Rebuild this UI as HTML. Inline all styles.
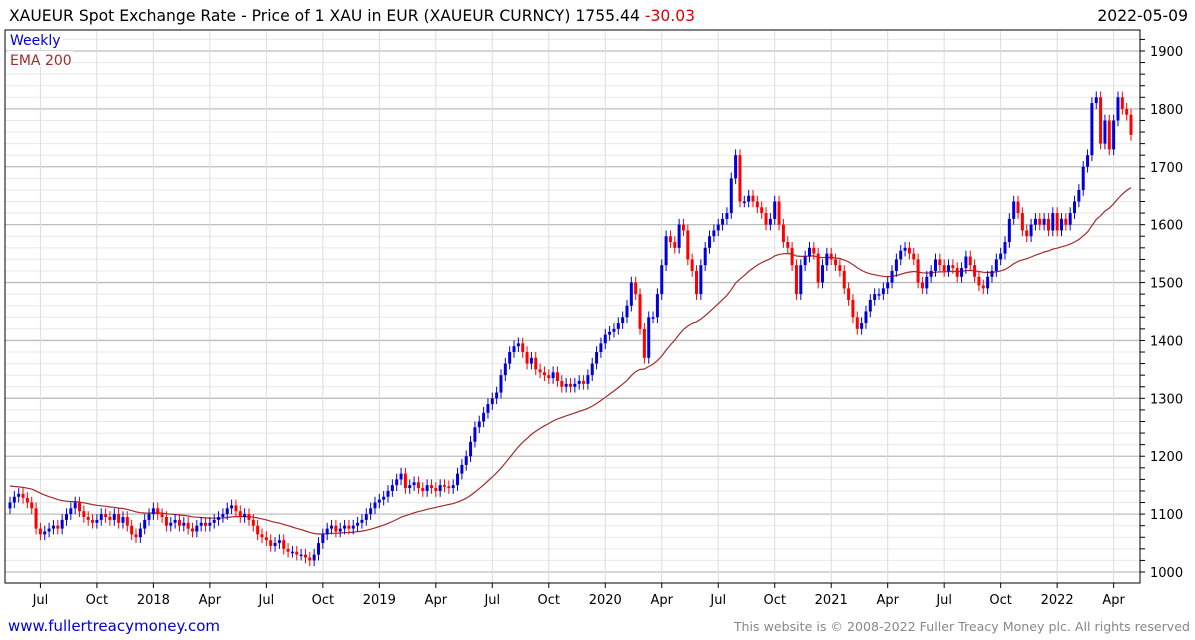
<!DOCTYPE html>
<html><head><meta charset="utf-8"><style>
body{margin:0;background:#fff;width:1195px;height:640px;overflow:hidden;font-family:"DejaVu Sans","Liberation Sans",sans-serif}
svg{position:absolute;left:0;top:0}
</style></head><body>
<svg id="chart" width="1195" height="640">
<text x="9" y="21" font-size="15.6" fill="#000">XAUEUR Spot Exchange Rate - Price of 1 XAU in EUR (XAUEUR CURNCY) 1755.44 <tspan fill="#e00000">-30.03</tspan></text>
<text x="1188" y="21" font-size="15.6" text-anchor="end" fill="#000">2022-05-09</text>
<g id="grid"></g>
<g id="ema"></g>
<g id="candles"></g>
<rect x="5" y="30" width="1135" height="553" fill="none" stroke="#000" stroke-width="1"/>
<rect x="7" y="31" width="55" height="16" fill="#fff"/>
<rect x="7" y="51" width="66" height="16" fill="#fff"/>
<text x="10" y="45" font-size="14" fill="#0000dd">Weekly</text>
<text x="10" y="65" font-size="14" fill="#a52a2a">EMA 200</text>
<g id="axes"></g>
<text x="8" y="631" font-size="15" fill="#0000dd">www.fullertreacymoney.com</text>
<text x="1190" y="631" font-size="12.6" fill="#888" text-anchor="end">This website is © 2008-2022 Fuller Treacy Money plc. All rights reserved</text>
</svg>
<script>
const closes = [1120,1130,1135,1128,1120,1110,1075,
1065,1070,1075,1080,1075,1090,1100,1110,1120,1105,1095,1090,1085,
1090,1100,1095,1090,1100,1085,1095,1080,1065,1060,1075,1090,1100,
1110,1100,1095,1080,1085,1090,1080,1085,1075,1070,1080,1085,1080,
1085,1090,1095,1100,1110,1115,1105,1095,1100,1090,1080,1065,1060,
1055,1045,1050,1055,1040,1035,1035,1030,1030,1025,1020,1030,1050,
1065,1075,1080,1070,1075,1080,1075,1080,1085,1090,1100,1110,1120,
1125,1130,1140,1150,1160,1170,1145,1150,1155,1145,1140,1150,1145,
1140,1150,1148,1145,1150,1170,1185,1200,1225,1250,1260,1275,1290,
1300,1310,1340,1360,1380,1390,1395,1380,1360,1370,1350,1345,1340,
1335,1345,1330,1320,1325,1320,1325,1330,1325,1340,1360,1380,1395,
1410,1415,1420,1430,1440,1460,1500,1480,1420,1370,1440,1440,1480,
1530,1580,1570,1560,1600,1590,1540,1520,1480,1530,1560,1580,1590,
1600,1610,1620,1680,1720,1640,1640,1650,1640,1630,1620,1600,1610,
1640,1600,1570,1560,1530,1480,1530,1545,1560,1550,1500,1530,1550,
1540,1530,1520,1490,1470,1440,1420,1430,1450,1470,1480,1480,1490,
1500,1520,1540,1555,1560,1550,1540,1500,1490,1510,1520,1540,1530,
1520,1530,1525,1510,1525,1545,1530,1510,1495,1490,1510,1520,1540,
1550,1570,1610,1640,1620,1590,1580,1600,1610,1600,1610,1590,1620,
1590,1610,1600,1620,1640,1660,1700,1720,1810,1820,1740,1780,1730,
1780,1820,1800,1790,1755];
const firstOpen = 1110;
const emaSeed = 1150;
const yTicks = [1000,1100,1200,1300,1400,1500,1600,1700,1800,1900];
const xLabels = ["Jul","Oct","2018","Apr","Jul","Oct","2019","Apr","Jul","Oct","2020","Apr","Jul","Oct","2021","Apr","Jul","Oct","2022","Apr"];
const xLabelWeeks = [7,20,33,46,59,72,85,98,111,124,137,150,163,176,189,202,215,228,241,254];

const NS="http://www.w3.org/2000/svg";
const X0=10, DX=4.345, Y0=572, K=0.5789;
const xs=i=>X0+i*DX;
const ys=v=>Y0-(v-1000)*K;
function mk(tag,attrs,parent){const e=document.createElementNS(NS,tag);for(const k in attrs)e.setAttribute(k,attrs[k]);parent.appendChild(e);return e;}
const grid=document.getElementById('grid'),axes=document.getElementById('axes');
for(let v=980;v<=1920;v+=20){const y=ys(v);if(y<31||y>582)continue;
 const major=v%100===0;
 const l=mk('line',{x1:5,x2:1140,y1:y,y2:y,stroke:major?'#bdbdbd':'#e8e8e8','stroke-width':major?1.3:1},grid);
 
 
 const t=mk('line',{x1:1140,x2:1145,y1:y,y2:y,stroke:'#000'},axes);
 
 
}
yTicks.forEach(v=>{const t=mk('text',{x:1150,y:ys(v)+5,'font-size':13,fill:'#000'},axes);t.textContent=v;
 
 });
xLabels.forEach((s,i)=>{const x=xs(xLabelWeeks[i]);
 const g=mk('line',{x1:x,x2:x,y1:31,y2:583,stroke:'#dcdcdc'},grid);
 
 
 const tk=mk('line',{x1:x,x2:x,y1:583,y2:588,stroke:'#000'},axes);
 
 
 const t=mk('text',{x:x,y:604,'font-size':13,'text-anchor':'middle',fill:'#000'},axes);t.textContent=s;
 
 });
const cg=document.getElementById('candles');
let prev=firstOpen;
closes.forEach((c,i)=>{const o=prev;prev=c;const up=c>=o;const col=up?'#0000dd':'#ff0000';
 const hi=Math.max(o,c)+10,lo=Math.min(o,c)-10;const x=xs(i);
 const g=mk('g',{},cg);
 
 
 mk('line',{x1:x,x2:x,y1:ys(hi),y2:ys(lo),stroke:col,'stroke-width':1},g);
 const top=ys(Math.max(o,c)),h=Math.max(1.5,ys(Math.min(o,c))-top);
 mk('rect',{x:x-1.5,y:top,width:3,height:h,fill:col},g);
});
let e=emaSeed;const a=2/41;const pts=[];
closes.forEach((c,i)=>{e=e+a*(c-e);pts.push(xs(i).toFixed(1)+','+ys(e).toFixed(1));});
const pl=mk('polyline',{points:pts.join(' '),fill:'none',stroke:'#a52a2a','stroke-width':1.2},document.getElementById('ema'));


</script>
</body></html>
